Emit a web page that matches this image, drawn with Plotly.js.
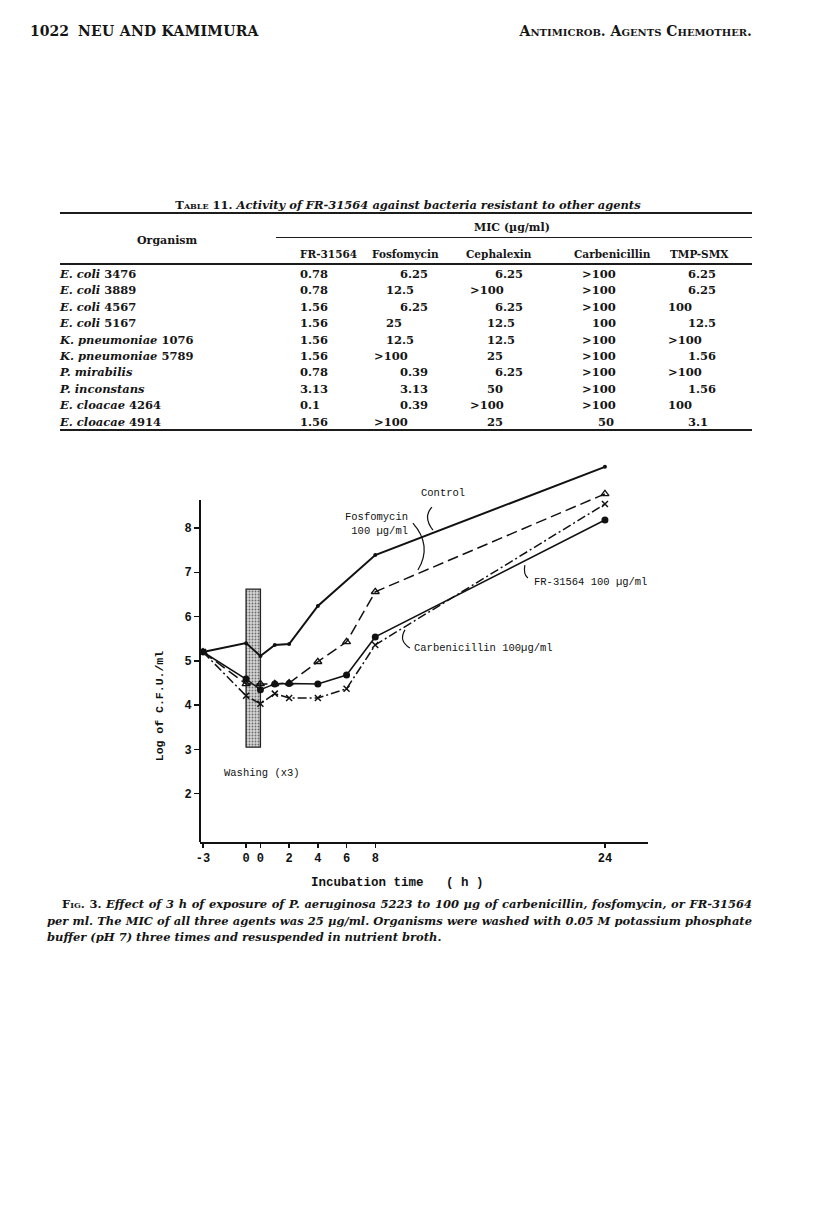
<!DOCTYPE html>
<html>
<head>
<meta charset="utf-8">
<script src="https://cdn.plot.ly/plotly-3.0.1.min.js"></script>
<style>
  body { margin: 0; background: #fff; }
  #page { position: relative; width: 816px; height: 1213px; overflow: hidden;
          font-family: "DejaVu Serif", serif; color: #151515; }
  .t { position: absolute; white-space: nowrap; line-height: 14px; }
  .rule { position: absolute; background: #1c1c1c; }
  #chart { position: absolute; left: 0; top: 440px; width: 816px; height: 470px; }
  .cap { position: absolute; left: 47px; width: 705px; font: italic bold 11.5px "DejaVu Serif", serif;
         text-align: justify; text-align-last: justify; line-height: 16px; white-space: nowrap; }
</style>
</head>
<body>
<div id="page"><div id="chart"></div></div>
<script>
// ---- Table 11 data ----
const orgSpecies = ['E. coli', 'E. coli', 'E. coli', 'E. coli', 'K. pneumoniae', 'K. pneumoniae',
  'P. mirabilis', 'P. inconstans', 'E. cloacae', 'E. cloacae'];
const orgStrain = ['3476', '3889', '4567', '5167', '1076', '5789', '', '', '4264', '4914'];
const micHeaders = ['FR-31564', 'Fosfomycin', 'Cephalexin', 'Carbenicillin', 'TMP-SMX'];
const micFR = ['0.78', '0.78', '1.56', '1.56', '1.56', '1.56', '0.78', '3.13', '0.1', '1.56'];
const micFosfomycin = ['6.25', '12.5', '6.25', '25', '12.5', '>100', '0.39', '3.13', '0.39', '>100'];
const micCephalexin = ['6.25', '>100', '6.25', '12.5', '12.5', '25', '6.25', '50', '>100', '25'];
const micCarbenicillin = ['>100', '>100', '>100', '100', '>100', '>100', '>100', '>100', '>100', '50'];
const micTmpSmx = ['6.25', '6.25', '100', '12.5', '>100', '1.56', '>100', '1.56', '100', '3.1'];

// ---- Fig. 3 data (log CFU/ml); "before" = -3 h and 0 h before washing, "after" = after washing ----
const timesBefore = [-3, 0];
const timesAfter = [0, 1, 2, 4, 6, 8, 24];
const WASH_GAP = 1; // washing drawn as a 1 h wide band between the two zeros

const controlBefore = [5.2, 5.4];
const controlAfter = [5.11, 5.36, 5.38, 6.24, null, 7.39, 9.38];
const fosfoBefore = [5.2, 4.48];
const fosfoAfter = [4.48, 4.48, 4.5, 4.98, 5.43, 6.56, 8.77];
const frBefore = [5.2, 4.21];
const frAfter = [4.03, 4.26, 4.16, 4.16, 4.37, 5.36, 8.54];
const carbBefore = [5.2, 4.59];
const carbAfter = [4.35, 4.48, 4.49, 4.48, 4.68, 5.54, 8.18];

// washing band (log CFU extent of the stippled bar)
const washLow = 3.05;
const washHigh = 6.62;

const xTickVals = [-3, 0, 0 + WASH_GAP, 2 + WASH_GAP, 4 + WASH_GAP, 6 + WASH_GAP, 8 + WASH_GAP, 24 + WASH_GAP];
const xTickText = ['-3', '0', '0', '2', '4', '6', '8', '24'];

const page = document.getElementById('page');

function addText(html, left, top, css) {
  const d = document.createElement('div');
  d.className = 't';
  d.innerHTML = html;
  d.style.left = left + 'px';
  d.style.top = top + 'px';
  if (css) d.style.cssText += css;
  page.appendChild(d);
  return d;
}
function addRule(left, top, width, h) {
  const d = document.createElement('div');
  d.className = 'rule';
  d.style.cssText = `left:${left}px;top:${top}px;width:${width}px;height:${h}px;`;
  page.appendChild(d);
}

// page header
addText('1022', 30, 23, 'font:bold 14px "DejaVu Serif",serif;');
addText('NEU AND KAMIMURA', 78, 23, 'font:bold 14px "DejaVu Serif",serif;letter-spacing:0.3px;');
addText('Antimicrob. Agents Chemother.', 0, 23,
  'font:bold 14px "DejaVu Serif",serif;font-variant:small-caps;right:64px;left:auto;');

// table
addText('<span style="font-variant:small-caps;font-style:normal">Table</span> 11. <i>Activity of FR-31564 against bacteria resistant to other agents</i>',
  0, 198, 'font:bold 11.5px "DejaVu Serif",serif;width:816px;text-align:center;');
addRule(60, 212, 692, 1.5);
addText('MIC (µg/ml)', 474, 221, 'font:bold 11px "DejaVu Serif",serif;');
addRule(276, 237, 476, 1);
addText('Organism', 137, 234, 'font:bold 11px "DejaVu Serif",serif;');
const headX = [300, 372, 466, 574, 670];
micHeaders.forEach((h, i) => addText(h, headX[i], 248, 'font:bold 10.5px "DejaVu Serif",serif;'));
addRule(60, 263, 692, 1.5);

const micCols = [micFR, micFosfomycin, micCephalexin, micCarbenicillin, micTmpSmx];
// left edge per column, by value kind: d2 = "6.25", d1 = "12.5"/"25", h = "100", gt = ">100"
const colPos = [
  { d2: 300, d1: 300, h: 300, gt: 300 },
  { d2: 400, d1: 386, h: 386, gt: 374 },
  { d2: 495, d1: 487, h: 487, gt: 470 },
  { d2: 592, d1: 598, h: 592, gt: 582 },
  { d2: 688, d1: 688, h: 668, gt: 668 }
];
function kind(v) {
  if (v[0] === '>') return 'gt';
  if (v === '100') return 'h';
  if (/^\d\.\d\d$/.test(v)) return 'd2';
  return 'd1';
}
orgSpecies.forEach((sp, i) => {
  const top = 267 + i * 16.4;
  addText(`<i>${sp}</i> ${orgStrain[i]}`, 60, top, 'font:bold 11.5px "DejaVu Serif",serif;');
  micCols.forEach((col, c) => {
    const v = col[i];
    addText(v.replace('>', '&gt;'), colPos[c][kind(v)], top, 'font:bold 11.5px "DejaVu Serif",serif;');
  });
});
addRule(60, 429, 692, 1.5);

// caption
const capLines = [
  '<span style="font-style:normal;font-variant:small-caps">Fig.</span> <span style="font-style:normal">3.</span> Effect of 3 h of exposure of P. aeruginosa 5223 to 100 µg of carbenicillin, fosfomycin, or FR-31564',
  'per ml. The MIC of all three agents was 25 µg/ml. Organisms were washed with 0.05 M potassium phosphate',
  'buffer (pH 7) three times and resuspended in nutrient broth.'
];
capLines.forEach((ln, i) => {
  const d = document.createElement('div');
  d.className = 'cap';
  d.innerHTML = ln;
  d.style.top = (896 + i * 16.5) + 'px';
  if (i === 0) { d.style.left = '62px'; d.style.width = '690px'; }
  if (i === 2) d.style.textAlignLast = 'left';
  page.appendChild(d);
});

// ---- chart ----
const xOf = () => timesBefore.concat(timesAfter.map(t => t + WASH_GAP));
const MONO = '"Liberation Mono", "DejaVu Sans Mono", monospace';

const traces = [
  {
    // stippled washing band
    type: 'bar', x: [WASH_GAP / 2], width: [WASH_GAP], base: [washLow], y: [washHigh - washLow],
    marker: { color: '#cfcfcf', line: { color: '#222', width: 1.3 },
      pattern: { shape: '.', fgcolor: '#6a6a6a', bgcolor: '#d6d6d6', size: 3, solidity: 0.3 } },
    hoverinfo: 'skip'
  },
  {
    name: 'Control', x: xOf(), y: controlBefore.concat(controlAfter),
    mode: 'lines+markers', connectgaps: true,
    line: { color: '#111', width: 2 },
    marker: { symbol: 'circle', size: 4, color: '#111' }
  },
  {
    name: 'Fosfomycin 100 µg/ml', x: xOf(), y: fosfoBefore.concat(fosfoAfter),
    mode: 'lines+markers',
    line: { color: '#111', width: 1.5, dash: '11px,5px' },
    marker: { symbol: 'triangle-up-open', size: 7, color: '#111', line: { width: 1.3 } }
  },
  {
    name: 'FR-31564 100 µg/ml', x: xOf(), y: frBefore.concat(frAfter),
    mode: 'lines+markers',
    line: { color: '#111', width: 1.5, dash: '9px,3px,2px,3px' },
    marker: { symbol: 'x-thin-open', size: 6, color: '#111', line: { width: 1.5, color: '#111' } }
  },
  {
    name: 'Carbenicillin 100µg/ml', x: xOf(), y: carbBefore.concat(carbAfter),
    mode: 'lines+markers',
    line: { color: '#111', width: 1.5 },
    marker: { symbol: 'circle', size: 7, color: '#111' }
  }
];

const lbl = (text, x, y, extra) => Object.assign({
  text, x, y, xref: 'x', yref: 'y', showarrow: false,
  font: { family: MONO, size: 10.5, color: '#111' }
}, extra || {});

const layout = {
  width: 816, height: 470,
  margin: { l: 200, r: 168, t: 18, b: 68 },
  paper_bgcolor: 'rgba(0,0,0,0)', plot_bgcolor: 'rgba(0,0,0,0)',
  showlegend: false,
  xaxis: {
    range: [-3.21, 28.0], showgrid: false, zeroline: false,
    showline: true, linecolor: '#111', linewidth: 2,
    tickmode: 'array', tickvals: xTickVals, ticktext: xTickText,
    ticks: 'outside', ticklen: 4, tickwidth: 1.5, tickcolor: '#111',
    tickfont: { family: MONO, size: 12, color: '#111', weight: 'bold' }
  },
  yaxis: {
    range: [0.91, 9.58], showgrid: false, zeroline: false, showline: false,
    tickvals: [2, 3, 4, 5, 6, 7, 8],
    ticks: 'outside', ticklen: 5, tickwidth: 1.5, tickcolor: '#111',
    tickfont: { family: MONO, size: 12, color: '#111', weight: 'bold' }
  },
  shapes: [
    // y axis line stops at 8.6
    { type: 'line', xref: 'paper', yref: 'y', x0: 0, x1: 0, y0: 0.91, y1: 8.63,
      line: { color: '#111', width: 2 } },
    // leaders
    { type: 'path', xref: 'x', yref: 'y', path: 'M 12.95,8.47 Q 12.3,8.25 13.02,7.95',
      line: { color: '#111', width: 1.2 } },
    { type: 'path', xref: 'x', yref: 'y', path: 'M 11.62,8.11 Q 13.0,7.6 11.97,7.05',
      line: { color: '#111', width: 1.2 } },
    { type: 'path', xref: 'x', yref: 'y', path: 'M 19.42,7.16 Q 19.3,6.95 19.63,6.87',
      line: { color: '#111', width: 1.2 } },
    { type: 'path', xref: 'x', yref: 'y', path: 'M 11.07,5.70 Q 10.6,5.45 11.41,5.29',
      line: { color: '#111', width: 1.2 } }
  ],
  annotations: [
    lbl('Control', 13.71, 8.79),
    lbl('Fosfomycin<br>100 µg/ml', 11.41, 8.09, { xanchor: 'right', align: 'right' }),
    lbl('FR-31564 100 µg/ml', 19.91, 6.78, { xanchor: 'left' }),
    lbl('Carbenicillin 100µg/ml', 11.55, 5.29, { xanchor: 'left' }),
    lbl('Washing (x3)', -1.68, 2.47, { xanchor: 'left' }),
    { text: 'Log of C.F.U./ml', xref: 'paper', yref: 'y', x: -0.11, y: 3.98,
      textangle: -90, showarrow: false,
      font: { family: MONO, size: 11.5, color: '#111', weight: 'bold' } },
    { text: 'Incubation time   ( h )', xref: 'paper', yref: 'paper', x: 0.44, y: -0.107,
      yanchor: 'middle', showarrow: false,
      font: { family: MONO, size: 12.5, color: '#111', weight: 'bold' } }
  ]
};

Plotly.newPlot('chart', traces, layout, { staticPlot: true, displayModeBar: false });
</script>
</body>
</html>
